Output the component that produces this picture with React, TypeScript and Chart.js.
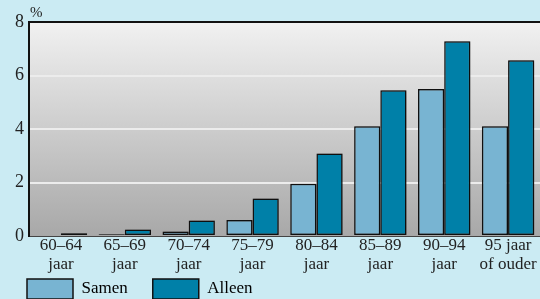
import React, { useEffect, useRef } from "react";
import { Chart, registerables } from "chart.js";

Chart.register(...registerables);

const categories: string[][] = [
  ["60–64", "jaar"],
  ["65–69", "jaar"],
  ["70–74", "jaar"],
  ["75–79", "jaar"],
  ["80–84", "jaar"],
  ["85–89", "jaar"],
  ["90–94", "jaar"],
  ["95 jaar", "of ouder"],
];
const samen: number[] = [0.04, 0.07, 0.17, 0.6, 1.95, 4.1, 5.5, 4.1];
const alleen: number[] = [0.1, 0.24, 0.58, 1.4, 3.08, 5.45, 7.28, 6.57];
const yTicks: number[] = [0, 2, 4, 6, 8];

const FONT = "'Liberation Serif', 'Times New Roman', serif";
const BG = "#cbebf3";

const plotBg = {
  id: "plotBg",
  afterLayout(chart: any) {
    const lg = chart.legend;
    if (lg) {
      const h = lg.height;
      lg.top = 254;
      lg.bottom = 254 + h;
    }
  },
  beforeDraw(chart: any) {
    const { ctx, chartArea } = chart;
    if (!chartArea) return;
    ctx.save();
    ctx.fillStyle = BG;
    ctx.fillRect(0, 0, chart.width, chart.height);
    const g = ctx.createLinearGradient(0, chartArea.top, 0, chartArea.bottom);
    g.addColorStop(0, "#f1f1f1");
    g.addColorStop(1, "#a8a8a8");
    ctx.fillStyle = g;
    ctx.fillRect(chartArea.left, chartArea.top, chartArea.right - chartArea.left, chartArea.bottom - chartArea.top);
    ctx.restore();
  },
  afterDraw(chart: any) {
    const { ctx, chartArea } = chart;
    ctx.save();
    ctx.fillStyle = "#222";
    ctx.font = "15px " + FONT;
    ctx.textAlign = "left";
    ctx.textBaseline = "alphabetic";
    ctx.fillText("%", chartArea.left + 1, chartArea.top - 5);
    ctx.restore();
  },
};

const barShadow = {
  id: "barShadow",
  beforeDatasetsDraw(chart: any) {
    const ctx = chart.ctx;
    ctx.save();
    ctx.shadowColor = "rgba(0,0,0,0.35)";
    ctx.shadowBlur = 2;
    ctx.shadowOffsetX = 1;
    ctx.shadowOffsetY = 0;
  },
  afterDatasetsDraw(chart: any) {
    chart.ctx.restore();
  },
};

export default function App() {
  const ref = useRef<HTMLCanvasElement | null>(null);
  useEffect(() => {
    document.body.style.margin = "0";
    const canvas = ref.current!;
    const chart = new Chart(canvas, {
      type: "bar",
      data: {
        labels: categories,
        datasets: [
          {
            label: "Samen",
            data: samen,
            backgroundColor: "#78b4d2",
            borderColor: "#111",
            borderWidth: 1.5,
            borderSkipped: false,
          },
          {
            label: "Alleen",
            data: alleen,
            backgroundColor: "#0080a8",
            borderColor: "#111",
            borderWidth: 1.5,
            borderSkipped: false,
          },
        ],
      },
      options: {
        responsive: false,
        animation: false,
        devicePixelRatio: 1,
        layout: { padding: { top: 22, left: 2, right: 0, bottom: -36 } },
        datasets: {
          bar: { categoryPercentage: 0.82, barPercentage: 1 },
        },
        scales: {
          x: {
            afterFit(scale: any) {
              scale.height = 44;
            },
            grid: { display: false, drawTicks: false },
            border: { display: true, color: "#444", width: 1 },
            ticks: {
              color: "#222",
              font: { family: FONT, size: 17, lineHeight: 1.1 },
              padding: 0,
              maxRotation: 0,
              autoSkip: false,
            },
          },
          y: {
            min: 0,
            max: 8,
            afterBuildTicks(scale: any) {
              scale.ticks = yTicks.map((v) => ({ value: v }));
            },
            afterFit(scale: any) {
              scale.width = 27;
            },
            grid: {
              drawTicks: false,
              color: (c: any) => (c.tick && c.tick.value === 8 ? "#111" : c.tick && c.tick.value === 0 ? "rgba(0,0,0,0)" : "#ececec"),
              lineWidth: 2,
            },
            border: { display: true, color: "#111", width: 2 },
            ticks: {
              color: "#222",
              font: { family: FONT, size: 18 },
              padding: 5,
            },
          },
        },
        plugins: {
          legend: {
            position: "bottom",
            align: "start",
            labels: {
              boxWidth: 46,
              boxHeight: 20,
              padding: 25,
              color: "#222",
              font: { family: FONT, size: 17 },
              generateLabels: (ch: any) =>
                ch.data.datasets.map((d: any, i: number) => ({
                  text: d.label,
                  fillStyle: d.backgroundColor,
                  strokeStyle: "#111",
                  lineWidth: 1.5,
                  datasetIndex: i,
                  hidden: false,
                })),
            },
          },
          tooltip: { enabled: false },
        },
      },
      plugins: [plotBg, barShadow],
    });
    return () => chart.destroy();
  }, []);
  return (
    <div style={{ position: "absolute", left: 0, top: 0, width: 540, height: 299, background: BG }}>
      <canvas ref={ref} width={540} height={299} style={{ display: "block", width: 540, height: 299 }} />
    </div>
  );
}
